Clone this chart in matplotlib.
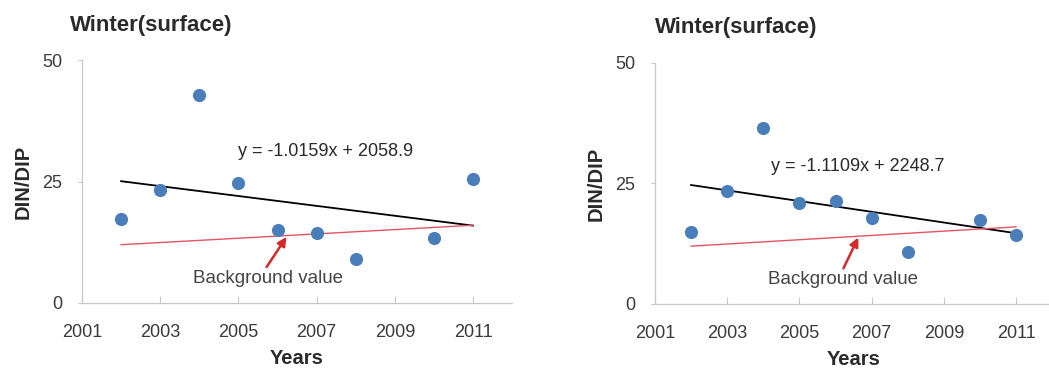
import matplotlib
matplotlib.use("Agg")
import matplotlib.pyplot as plt
import numpy as np

plt.rcParams['font.family'] = ['Liberation Sans', 'DejaVu Sans']

# Winter surface DIN/DIP ratios, two stations
years_a = [2002, 2003, 2004, 2005, 2006, 2007, 2008, 2010, 2011]
ratio_a = [17.3, 23.3, 42.8, 24.6, 15.0, 14.5, 9.0, 13.4, 25.5]
slope_a, intercept_a = -1.0159, 2058.9

years_b = [2002, 2003, 2004, 2005, 2006, 2007, 2008, 2010, 2011]
ratio_b = [15.0, 23.4, 36.6, 21.0, 21.4, 17.9, 10.7, 17.4, 14.3]
slope_b, intercept_b = -1.1109, 2248.7

# background value line endpoints (2002 -> 2011)
bg_years = [2002, 2011]
bg_values = [12.0, 16.0]

title = "Winter(surface)"
x_ticks = [2001, 2003, 2005, 2007, 2009, 2011]
y_ticks = [0, 25, 50]

fig = plt.figure(figsize=(10.49, 3.72), dpi=100)
ax_a = fig.add_axes([0.0782, 0.1855, 0.410, 0.653])
ax_b = fig.add_axes([0.6244, 0.1828, 0.3786, 0.648])

panels = [
    (ax_a, years_a, ratio_a, slope_a, intercept_a, (2005.0, 31.1), (2006.23, 13.6), (2005.72, 7.4), (2005.75, 5.1)),
    (ax_b, years_b, ratio_b, slope_b, intercept_b, (2004.2, 28.5), (2006.63, 13.8), (2006.22, 7.4), (2006.2, 5.0)),
]

spine_col = "#c8c8c8"
text_col = "#3a3a3a"
for ax, yrs, vals, m, b, eq_pos, arr_head, arr_tail, txt_pos in panels:
    ax.scatter(yrs, vals, s=90, color="#4a7ebb", zorder=3, linewidths=0)
    tx = np.array([yrs[0], yrs[-1]], dtype=float)
    ax.plot(tx, m * tx + b, color="black", lw=1.3, zorder=2)
    ax.plot(bg_years, bg_values, color="#e25563", lw=1.0, zorder=2)
    sign = "-" if m < 0 else ""
    ax.text(eq_pos[0], eq_pos[1], f"y = {sign}{abs(m):.4f}x + {b:.1f}",
            fontsize=13, color="#2a2a2a", va="center", ha="left")
    ax.annotate("", xy=arr_head, xytext=arr_tail,
                arrowprops=dict(arrowstyle="-|>", color="#d42a2a", lw=1.8,
                                mutation_scale=13, shrinkA=0, shrinkB=0))
    ax.text(txt_pos[0], txt_pos[1], "Background value", fontsize=13.5,
            color="#444444", ha="center", va="center")

    ax.set_xlim(2001, 2012)
    ax.set_ylim(0, 50)
    ax.set_xticks(x_ticks)
    ax.set_yticks(y_ticks)
    ax.tick_params(axis="x", labelsize=13, colors=text_col, direction="in",
                   length=5, width=0.8, color=spine_col, pad=15)
    ax.tick_params(axis="y", labelsize=13, colors=text_col, direction="out",
                   length=3, width=0.8, color=spine_col, pad=11)
    for side in ("top", "right"):
        ax.spines[side].set_visible(False)
    for side in ("left", "bottom"):
        ax.spines[side].set_color(spine_col)
        ax.spines[side].set_linewidth(0.9)
    ax.set_xlabel("Years", fontsize=14.5, fontweight="bold", color="#2a2a2a", labelpad=6)
    ax.set_ylabel("DIN/DIP", fontsize=14.5, fontweight="bold", color="#2a2a2a", labelpad=7)

fig.text(70 / 1049, 1 - 25 / 372, title, fontsize=16, fontweight="bold",
         color="#2a2a2a", ha="left", va="center")
fig.text(655 / 1049, 1 - 27 / 372, title, fontsize=16, fontweight="bold",
         color="#2a2a2a", ha="left", va="center")

fig.savefig("out.png", dpi=100)
